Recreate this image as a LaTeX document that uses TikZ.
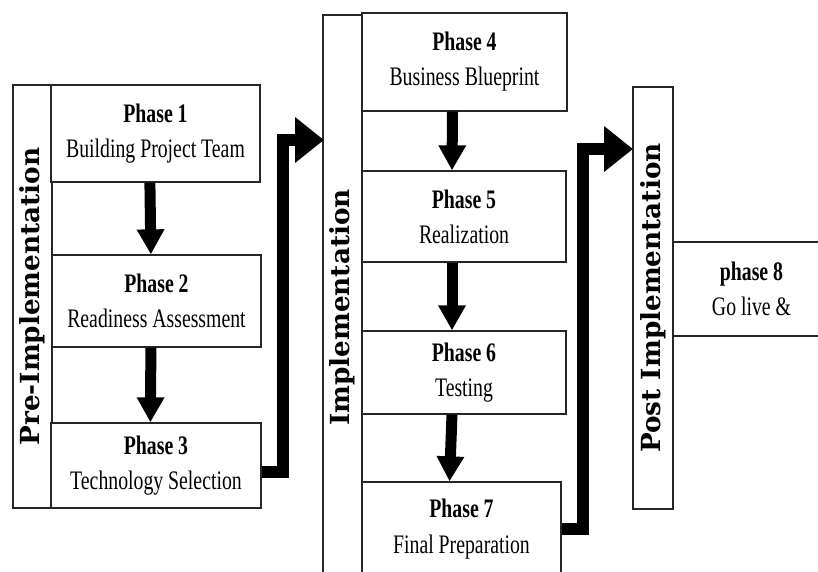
\documentclass[tikz,border=0pt]{standalone}
\usepackage{fontspec}
\setmainfont{Liberation Serif}[FakeStretch=0.74]
\newfontfamily\sidefont{DejaVu Serif}
\usepackage{tikz}
\usetikzlibrary{arrows.meta,positioning,calc}

\tikzset{
  phasebox/.style={draw=black!85,line width=0.9pt,fill=white,align=center,inner sep=0pt,font=\fontsize{19}{25}\selectfont},
  sidebox/.style={draw=black!85,line width=0.9pt,fill=white,inner sep=0pt,rotate=90,font=\sidefont\bfseries\fontsize{18.7}{22}\selectfont},
  downarrow/.style={line width=0.275cm,-{Triangle[width=0.65cm,length=0.625cm]}},
  stagearrow/.style={line width=0.3cm,-{Triangle[width=1.1cm,length=0.725cm]}}
}

\begin{document}
\begin{tikzpicture}[x=1cm,y=1cm,>=Latex]
  \clip (0,0) rectangle (20.45,14.275);
  % pre-implementation column
  \node[sidebox,minimum width=10.575cm,minimum height=0.975cm] (pre) at (0.8125,6.8625) {Pre-Implementation};
  \node[phasebox,minimum width=5.225cm,minimum height=2.425cm] (p1) at (3.8875,10.9375) {\textbf{Phase 1}\\Building Project Team};
  \node[phasebox,minimum width=5.225cm,minimum height=2.3cm] (p2) at (3.9125,6.75) {\textbf{Phase 2}\\Readiness Assessment};
  \node[phasebox,minimum width=5.25cm,minimum height=2.125cm] (p3) at (3.9,2.6375) {\textbf{Phase 3}\\Technology Selection};
  % implementation column
  \node[sidebox,minimum width=14.625cm,minimum height=0.975cm] (impl) at (8.5625,6.5875) {Implementation};
  \node[phasebox,minimum width=5.125cm,minimum height=2.45cm] (p4) at (11.6125,12.725) {\textbf{Phase 4}\\Business Blueprint};
  \node[phasebox,minimum width=5.1cm,minimum height=2.275cm] (p5) at (11.6,8.8625) {\textbf{Phase 5}\\Realization};
  \node[phasebox,minimum width=5.1cm,minimum height=2.075cm] (p6) at (11.6,4.9625) {\textbf{Phase 6}\\Testing};
  \node[phasebox,minimum width=4.975cm,minimum height=2.35cm] (p7) at (11.5375,1.05) {\textbf{Phase 7}\\Final Preparation};
  % post-implementation column
  \node[sidebox,minimum width=10.55cm,minimum height=1.0cm] (post) at (16.325,6.825) {Post Implementation};
  \node[phasebox,minimum width=3.925cm,minimum height=2.35cm] (p8) at (18.7875,7.05) {\textbf{phase 8}\\Go live \&};

  % arrows inside the columns
  \draw[downarrow] ([xshift=-0.14cm]p1.south) -- ([xshift=-0.14cm]p2.north);
  \draw[downarrow] ([xshift=-0.14cm]p2.south) -- ([xshift=-0.14cm]p3.north);
  \draw[downarrow] ([xshift=-0.3cm]p4.south) -- ([xshift=-0.3cm]p5.north);
  \draw[downarrow] ([xshift=-0.3cm]p5.south) -- ([xshift=-0.3cm]p6.north);
  \draw[downarrow] ([xshift=-0.3cm]p6.south) -- ([xshift=-0.3cm]p7.north);

  % arrows between the stages
  \coordinate (in1) at (8.1,10.775);
  \coordinate (in2) at (15.825,10.55);
  \draw[stagearrow] ([yshift=-0.16cm]p3.east) -- ++(0.525,0) |- (in1);
  \draw[stagearrow] (p7.east) -- ++(0.525,0) |- (in2);
\end{tikzpicture}
\end{document}
